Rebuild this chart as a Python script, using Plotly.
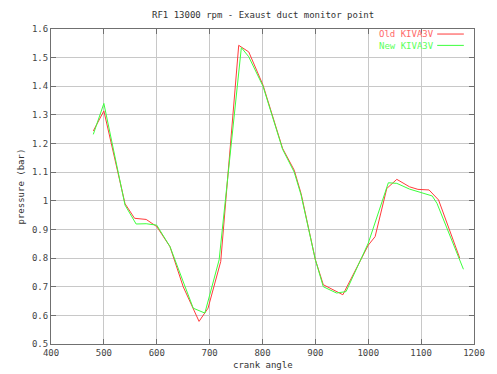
import plotly.graph_objects as go

# Old KIVA3V (red)
old_x = [480, 500, 540, 558, 580, 600, 625, 650, 680, 697, 721, 755, 774, 801, 838, 860, 873, 900, 915, 952, 1000, 1013, 1035, 1054, 1078, 1094, 1115, 1133, 1173]
old_y = [1.244, 1.314, 0.99, 0.939, 0.935, 0.91, 0.84, 0.70, 0.579, 0.625, 0.788, 1.543, 1.52, 1.404, 1.183, 1.107, 1.025, 0.794, 0.707, 0.672, 0.845, 0.875, 1.043, 1.075, 1.049, 1.040, 1.038, 1.003, 0.80]

# New KIVA3V (green)
new_x = [480, 500, 540, 561, 580, 600, 625, 669, 691, 718, 760, 774, 801, 838, 860, 873, 900, 915, 940, 958, 1000, 1038, 1054, 1078, 1121, 1130, 1180]
new_y = [1.232, 1.340, 0.985, 0.919, 0.92, 0.915, 0.84, 0.625, 0.608, 0.794, 1.535, 1.503, 1.40, 1.18, 1.10, 1.02, 0.794, 0.70, 0.678, 0.683, 0.852, 1.063, 1.061, 1.041, 1.017, 0.991, 0.761]

x_ticks = [400, 500, 600, 700, 800, 900, 1000, 1100, 1200]
y_ticks = [0.5, 0.6, 0.7, 0.8, 0.9, 1.0, 1.1, 1.2, 1.3, 1.4, 1.5, 1.6]

series_names = ["Old KIVA3V", "New KIVA3V"]

RED = "#ff3b3b"
GREEN = "#3cff3c"
FONT = "DejaVu Sans Mono"

fig = go.Figure()
fig.add_trace(go.Scatter(x=old_x, y=old_y, mode="lines", name=series_names[0],
                         line=dict(color=RED, width=1)))
fig.add_trace(go.Scatter(x=new_x, y=new_y, mode="lines", name=series_names[1],
                         line=dict(color=GREEN, width=1)))

axis_common = dict(showgrid=True, gridcolor="#c8c8c8", gridwidth=1,
                   showline=True, linecolor="#707070", linewidth=1, mirror="ticks",
                   ticks="inside", ticklen=5, tickcolor="#707070",
                   zeroline=False, tickfont=dict(family=FONT, size=9, color="#444444"))

txt = dict(family=FONT, size=9, color="#333333")

legend_text = ("<span style='color:#ff6a6a'>%s</span><br>"
               "<span style='color:#5cff5c'>%s</span>") % tuple(series_names)

fig.update_layout(
    width=497, height=374, autosize=False,
    margin=dict(l=51, r=13, t=29, b=30),
    paper_bgcolor="white", plot_bgcolor="white",
    showlegend=False,
    xaxis=dict(range=[400, 1200], tickvals=x_ticks, **axis_common),
    yaxis=dict(range=[0.5, 1.6], tickvals=y_ticks, **axis_common),
    annotations=[
        dict(text="RF1 13000 rpm - Exaust duct monitor point", x=0.5, xref="paper",
             y=1, yref="paper", yshift=14, yanchor="middle", xanchor="center",
             showarrow=False, font=txt),
        dict(text="crank angle", x=0.5, xref="paper", y=0, yref="paper",
             yshift=-21, yanchor="middle", xanchor="center", showarrow=False, font=txt),
        dict(text="pressure (bar)", x=0, xref="paper", y=0.5, yref="paper",
             xshift=-31, xanchor="center", yanchor="middle", textangle=-90,
             showarrow=False, font=txt),
        dict(text=legend_text, x=0.907, xref="paper", y=0.966, yref="paper",
             xanchor="right", yanchor="middle", align="right", showarrow=False,
             borderpad=0, font=dict(family=FONT, size=9, color="#ff6a6a")),
    ],
    shapes=[
        dict(type="line", xref="paper", yref="paper", x0=0.913, x1=0.976, y0=0.984, y1=0.984,
             line=dict(color=RED, width=1)),
        dict(type="line", xref="paper", yref="paper", x0=0.913, x1=0.976, y0=0.948, y1=0.948,
             line=dict(color=GREEN, width=1)),
    ],
)

fig.write_html("out.html")
